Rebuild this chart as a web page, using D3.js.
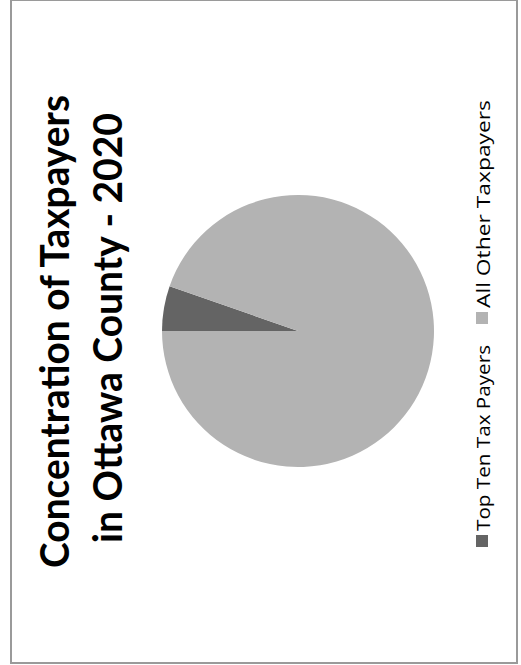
<!DOCTYPE html>
<html>
<head>
<meta charset="utf-8">
<script src="https://cdn.jsdelivr.net/npm/d3@7"></script>
<style>
  html, body { margin: 0; padding: 0; background: #fff; }
  svg { display: block; }
</style>
</head>
<body>
<svg id="chart" width="521" height="665"></svg>
<script>
// ---- data ----
const titleLines = ["Concentration of Taxpayers", "in Ottawa County - 2020"];
const categories = ["Top Ten Tax Payers", "All Other Taxpayers"];
const values = [5.35, 94.65];
const colors = ["#646464", "#b3b3b3"];

// ---- layout (original, unrotated chart frame) ----
const W = 663, H = 506;
const offsetX = 11, offsetY = 663;
const cx = 332, cy = 287, r = 136;

const svg = d3.select("#chart");

svg.append("rect")
  .attr("x", offsetX).attr("y", 0)
  .attr("width", H).attr("height", W)
  .attr("fill", "#fff")
  .attr("stroke", "#9a9a9a")
  .attr("stroke-width", 2);

const g = svg.append("g")
  .attr("transform", `translate(${offsetX},${offsetY}) rotate(-90)`);

// title
const titleMeta = [
  { y: 58, cx: 331.5, len: 473 },
  { y: 111, cx: 335, len: 430 }
];
g.selectAll("text.title")
  .data(titleLines)
  .join("text")
  .attr("class", "title")
  .attr("x", (d, i) => titleMeta[i].cx)
  .attr("y", (d, i) => titleMeta[i].y)
  .attr("text-anchor", "middle")
  .attr("font-family", "Lato, 'Open Sans', sans-serif")
  .attr("font-weight", "bold")
  .attr("font-size", 40)
  .attr("fill", "#000")
  .attr("textLength", (d, i) => titleMeta[i].len)
  .attr("lengthAdjust", "spacingAndGlyphs")
  .text(d => d);

// pie
const pie = d3.pie().sort(null).value(d => d.v);
const arc = d3.arc().innerRadius(0).outerRadius(r);
const pdata = pie(categories.map((c, i) => ({ c, v: values[i], col: colors[i] })));

g.append("g")
  .attr("transform", `translate(${cx},${cy})`)
  .selectAll("path")
  .data(pdata)
  .join("path")
  .attr("d", arc)
  .attr("fill", d => d.data.col);

// legend
const legendMeta = [
  { x: 116, len: 186 },
  { x: 339, len: 208 }
];
const items = g.append("g").selectAll("g.item")
  .data(categories)
  .join("g")
  .attr("class", "item")
  .attr("transform", (d, i) => `translate(${legendMeta[i].x},465)`);
items.append("rect")
  .attr("width", 12).attr("height", 12)
  .attr("fill", (d, i) => colors[i]);
items.append("text")
  .attr("x", 16)
  .attr("y", 13.5)
  .attr("font-family", "'Open Sans', sans-serif")
  .attr("font-size", 19)
  .attr("fill", "#000")
  .attr("textLength", (d, i) => legendMeta[i].len)
  .attr("lengthAdjust", "spacingAndGlyphs")
  .text(d => d);
</script>
</body>
</html>
